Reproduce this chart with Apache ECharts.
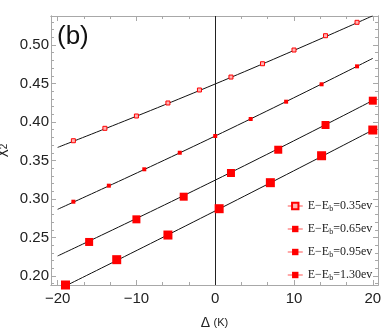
<!DOCTYPE html>
<html>
<head>
<meta charset="utf-8">
<script src="https://cdn.jsdelivr.net/npm/echarts@6/dist/echarts.min.js"></script>
<style>
html, body { margin: 0; padding: 0; background: #fff; }
#chart { width: 382px; height: 330px; }
</style>
</head>
<body>
<div id="chart"></div>
<script>
// legend labels (energy offsets)
var seriesNames = ['0.35ev', '0.65ev', '0.95ev', '1.30ev'];

// measured points
var x035 = [-18, -14, -10, -6, -2, 2, 6, 10, 14, 18];
var y035 = [0.3757, 0.3918, 0.4078, 0.4247, 0.4416, 0.4584, 0.4757, 0.4935, 0.5121, 0.5295];
var x065 = [-18, -13.5, -9, -4.5, 0, 4.5, 9, 13.5, 18];
var y065 = [0.2965, 0.3173, 0.3386, 0.3601, 0.3818, 0.4039, 0.4264, 0.4490, 0.4723];
var x095 = [-16, -10, -4, 2, 8, 14, 20];
var y095 = [0.2442, 0.2736, 0.3030, 0.3338, 0.3640, 0.3961, 0.4277];
var x130 = [-19, -12.5, -6, 0.5, 7, 13.5, 20];
var y130 = [0.1883, 0.2212, 0.2532, 0.2874, 0.3212, 0.3562, 0.3896];

// black fit lines
var fitX = [-20, 0, 20];
var fit035 = [0.367, 0.4494, 0.538];
var fit065 = [0.2866, 0.3818, 0.4827];
var fit095 = [0.226, 0.3245, 0.428];
var fit130 = [0.182, 0.2845, 0.3896];

// ticks
var xTicks = [-20, -10, 0, 10, 20];
var yTicks = [0.20, 0.25, 0.30, 0.35, 0.40, 0.45, 0.50];
var xMinor = [];
for (var i = 0; i < xTicks.length - 1; i++) {
    xMinor.push(xTicks[i] + 10 / 3, xTicks[i] + 20 / 3);
}
var yMinor = [];
for (var k = 19; k <= 53; k++) {
    if (k % 5 !== 0) yMinor.push(k / 100);
}

var xMin = -20.84, xMax = 20.66;
var yMin = 0.1883, yMax = 0.5377;

var frameColor = '#a8a8a8';
var labelFont = 'Liberation Sans';

function pairs(xs, ys) {
    return xs.map(function (x, i) { return [x, ys[i]]; });
}

function xAxisDef(pos, ticks, len, labels) {
    return {
        type: 'value', position: pos, min: xMin, max: xMax,
        axisLine: { show: true, onZero: false, lineStyle: { color: frameColor, width: 1 } },
        axisTick: { show: true, inside: true, length: len, customValues: ticks, lineStyle: { color: frameColor } },
        axisLabel: labels ? {
            show: true, customValues: ticks, margin: 6, color: '#222',
            fontFamily: labelFont, fontSize: 15,
            formatter: function (v) { return v < 0 ? '\u2212' + Math.abs(v) : String(v); }
        } : { show: false },
        splitLine: { show: false }
    };
}

function yAxisDef(pos, ticks, len, labels) {
    return {
        type: 'value', position: pos, min: yMin, max: yMax,
        axisLine: { show: true, onZero: false, lineStyle: { color: frameColor, width: 1 } },
        axisTick: { show: true, inside: true, length: len, customValues: ticks, lineStyle: { color: frameColor } },
        axisLabel: labels ? {
            show: true, customValues: ticks, margin: 2, color: '#222',
            fontFamily: labelFont, fontSize: 15,
            formatter: function (v) { return v.toFixed(2); }
        } : { show: false },
        splitLine: { show: false }
    };
}

var xAxes = [
    xAxisDef('bottom', xTicks, 5, true),
    xAxisDef('bottom', xMinor, 3, false),
    xAxisDef('top', xTicks, 5, false),
    xAxisDef('top', xMinor, 3, false)
];
xAxes[0].name = '{a|\u0394} {b|(K)}';
xAxes[0].nameLocation = 'middle';
xAxes[0].nameGap = 31;
xAxes[0].nameTextStyle = {
    color: '#222',
    rich: {
        a: { fontFamily: labelFont, fontSize: 14, color: '#222' },
        b: { fontFamily: labelFont, fontSize: 11, color: '#222' }
    }
};

var yAxes = [
    yAxisDef('left', yTicks, 5, true),
    yAxisDef('left', yMinor, 3, false),
    yAxisDef('right', yTicks, 5, false),
    yAxisDef('right', yMinor, 3, false)
];
yAxes[0].name = '{a|\u03c7}{b|2}';
yAxes[0].nameLocation = 'middle';
yAxes[0].nameRotate = 90;
yAxes[0].nameGap = 34;
yAxes[0].nameTextStyle = {
    rich: {
        a: { fontFamily: labelFont, fontSize: 15, color: '#222', lineHeight: 16 },
        b: { fontFamily: labelFont, fontSize: 10, color: '#222', lineHeight: 12, verticalAlign: 'bottom', padding: [6, 0, 0, 0] }
    }
};

var markerStyles = [
    { size: 4, color: '#ffb3b3', border: '#ff0000', bw: 1 },
    { size: 4, color: '#ff0000', border: '#ff0000', bw: 0 },
    { size: 8, color: '#ff0000', border: '#ff0000', bw: 0 },
    { size: 9, color: '#ff0000', border: '#ff0000', bw: 0 }
];
var pointSets = [pairs(x035, y035), pairs(x065, y065), pairs(x095, y095), pairs(x130, y130)];
var fitSets = [pairs(fitX, fit035), pairs(fitX, fit065), pairs(fitX, fit095), pairs(fitX, fit130)];

var series = [];
fitSets.forEach(function (d, i) {
    var s = {
        type: 'line', data: d, smooth: true, showSymbol: false, silent: true,
        lineStyle: { color: '#111', width: 1 }, z: 2, clip: true
    };
    if (i === 0) {
        s.markLine = {
            silent: true, symbol: ['none', 'none'], label: { show: false },
            lineStyle: { color: '#222', width: 1, type: 'solid' },
            data: [{ xAxis: 0 }]
        };
    }
    series.push(s);
});
pointSets.forEach(function (d, i) {
    var m = markerStyles[i];
    series.push({
        name: seriesNames[i], type: 'line', data: d,
        symbol: 'rect', symbolSize: m.size, showSymbol: true,
        lineStyle: { opacity: 0 },
        itemStyle: { color: m.color, borderColor: m.border, borderWidth: m.bw },
        z: 5, clip: false
    });
});

var chart = echarts.init(document.getElementById('chart'));
chart.setOption({
    animation: false,
    backgroundColor: '#fff',
    grid: { left: 51, right: 4, top: 16, bottom: 45, containLabel: false, outerBoundsMode: 'none' },
    xAxis: xAxes,
    yAxis: yAxes,
    legend: {
        orient: 'vertical', left: 282, top: 195,
        itemWidth: 15, itemHeight: 8, itemGap: 10,
        data: seriesNames,
        lineStyle: { color: '#ff8c8c', width: 1.5, opacity: 1 },
        formatter: function (n) { return '{n|E\u2212E}{s|b}{n|=' + n + '}'; },
        textStyle: {
            rich: {
                n: { fontFamily: 'Liberation Serif', fontSize: 12, color: '#222', lineHeight: 14 },
                s: { fontFamily: 'Liberation Serif', fontSize: 8, color: '#222', lineHeight: 14, verticalAlign: 'bottom', padding: [4, 0, 0, 0] }
            }
        }
    },
    graphic: [{
        type: 'text', left: 57, top: 24,
        style: { text: '(b)', fontFamily: labelFont, fontSize: 26, fill: '#111' }
    }],
    series: series
});
</script>
</body>
</html>
